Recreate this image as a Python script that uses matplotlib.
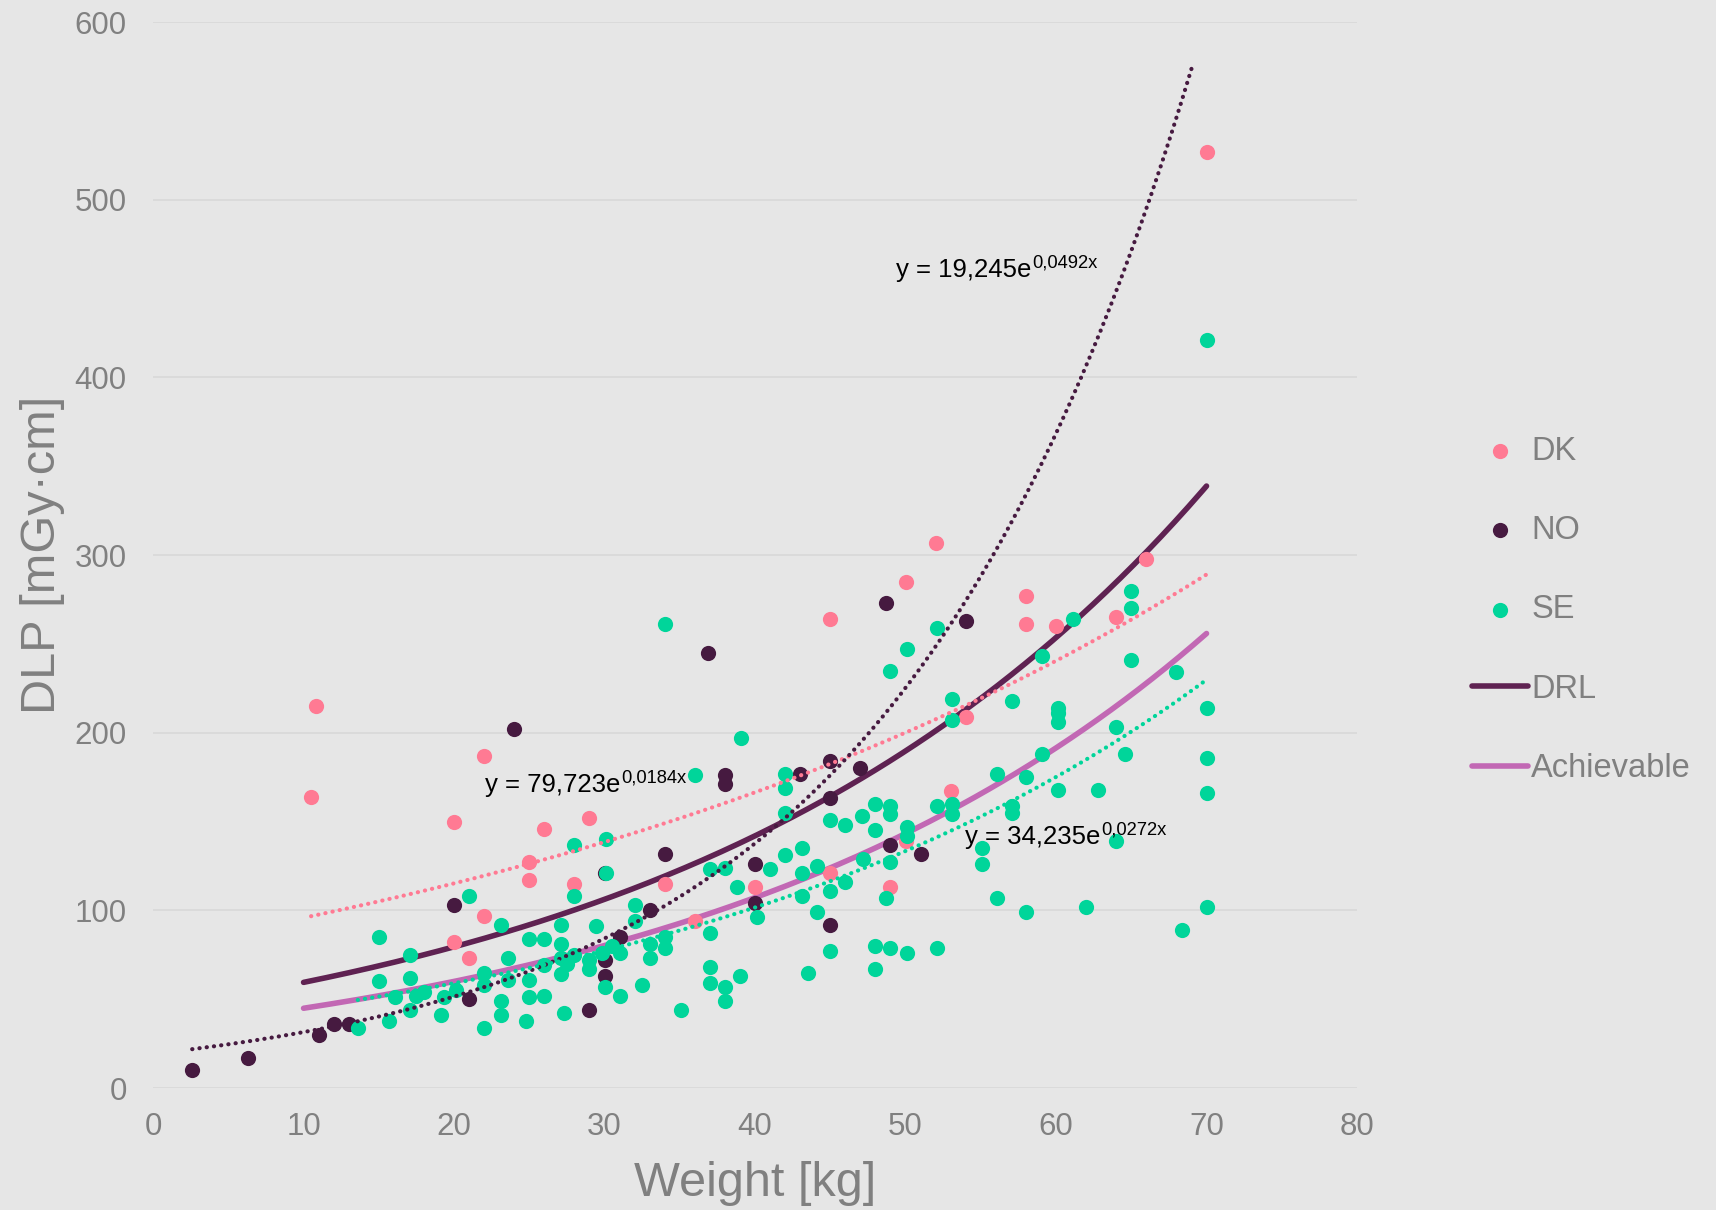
import numpy as np
import matplotlib.pyplot as plt

plt.rcParams['font.family'] = ['Liberation Sans', 'DejaVu Sans']

# =====================================================
# Data
# =====================================================

dk_weight = [10.5, 10.8, 22, 20, 20, 21, 22, 25, 25, 26, 29, 28, 34, 36, 40,
             45, 45, 49, 50, 50, 52, 53, 54, 58, 58, 60, 64, 66, 70]
dk_dlp = [164, 215, 187, 150, 82, 73, 97, 127, 117, 146, 152, 115, 115, 94, 113,
          121, 264, 113, 139, 285, 307, 167, 209, 277, 261, 260, 265, 298, 527]

no_weight = [2.6, 6.3, 11, 12, 13, 20, 21, 24, 29, 30, 30, 30, 31, 33, 34,
             36.9, 38, 38, 40, 40, 43, 45, 45, 45, 47, 48.7, 49, 51, 54]
no_dlp = [10, 17, 30, 36, 36, 103, 50, 202, 44, 121, 72, 63, 85, 100, 132,
          245, 176, 171, 126, 104, 177, 184, 163, 92, 180, 273, 137, 132, 263]

se_weight = [15, 15, 17.1, 17.1, 16.1, 17.1, 15.7, 13.6, 17.5, 18, 19.1, 19.3, 20.1,
             21, 23.1, 22, 22, 23.1, 23.1, 22, 23.6, 23.6, 25, 25, 25, 24.8, 26, 26,
             26, 39.1, 36, 42, 42, 42, 30.1, 28, 30.1, 28, 27.1, 29.4, 32, 32, 27.1,
             27.1, 27.1, 28, 27.5, 29, 29, 29.8, 30.5, 31, 33, 34, 34, 33, 37, 38,
             38.8, 41, 42, 37, 37, 37, 38, 38, 39, 35.1, 32.5, 31, 30, 27.3, 53.1,
             57.1, 60.1, 60.1, 60.1, 45, 46, 47.1, 48, 49, 49, 48, 50.1, 50.1, 52.1,
             53.1, 53.1, 56.1, 58, 57.1, 57.1, 59.1, 60.1, 62.8, 55.1, 55.1, 56.1, 58,
             62, 49, 47.2, 44.1, 43.1, 43.1, 45, 46, 43.1, 44.1, 40.1, 43.5, 45, 48,
             48, 49, 50.1, 52.1, 48.7, 52.1, 50.1, 49, 53.1, 59.1, 61.1, 65, 65, 65,
             68, 70, 70, 70, 64, 64.6, 64, 68.4, 70, 70, 34]
se_dlp = [85, 60, 75, 62, 51, 44, 38, 34, 52, 54, 41, 51, 55,
          108, 92, 65, 58, 49, 41, 34, 73, 61, 84, 61, 51, 38, 84, 69,
          52, 197, 176, 177, 169, 155, 140, 137, 121, 108, 92, 91, 103, 94, 81,
          73, 64, 75, 70, 72, 67, 76, 80, 76, 81, 85, 79, 73, 123, 124,
          113, 123, 131, 87, 68, 59, 57, 49, 63, 44, 58, 52, 57, 42, 207,
          218, 214, 211, 206, 151, 148, 153, 160, 159, 154, 145, 147, 142, 159,
          160, 154, 177, 175, 159, 155, 188, 168, 168, 135, 126, 107, 99,
          102, 127, 129, 125, 135, 121, 111, 116, 108, 99, 96, 65, 77, 80,
          67, 79, 76, 79, 107, 259, 247, 235, 219, 243, 264, 280, 270, 241,
          234, 214, 186, 166, 203, 188, 139, 89, 102, 421, 261]

# reference levels and Excel trend lines: y = a * exp(b * x)
drl_coef = (44.5, 0.029)
ach_coef = (33.6, 0.029)
ref_range = (10, 70)

trend_dk = (79.723, 0.0184)
trend_no = (19.245, 0.0492)
trend_se = (34.235, 0.0272)
trend_dk_range = (10.5, 70)
trend_no_range = (2.6, 69)
trend_se_range = (13.6, 70)

trend_labels = [
    ('79,723', '0,0184x', 22.06, 166.6),
    ('19,245', '0,0492x', 49.37, 456.5),
    ('34,235', '0,0272x', 53.95, 137.3),
]

# =====================================================
# Plot
# =====================================================

c_dk = '#FF7A93'
c_no = '#461A40'
c_se = '#00D59A'
c_drl = '#5F2252'
c_ach = '#C268B4'
bg = '#E6E6E6'
grey = '#808080'

fig = plt.figure(figsize=(17.16, 12.10), dpi=100, facecolor=bg)
ax = fig.add_axes([0.0892, 0.1008, 0.7016, 0.8810])
ax.set_facecolor(bg)


def expo(coef, rng):
    xs = np.linspace(rng[0], rng[1], 200)
    return xs, coef[0] * np.exp(coef[1] * xs)


xs, ys = expo(drl_coef, ref_range)
ax.plot(xs, ys, color=c_drl, lw=4, solid_capstyle='round', label='DRL', zorder=2)
xs, ys = expo(ach_coef, ref_range)
ax.plot(xs, ys, color=c_ach, lw=4, solid_capstyle='round', label='Achievable', zorder=2)

ax.scatter(dk_weight, dk_dlp, s=120, color=c_dk, lw=0, label='DK', zorder=3)
ax.scatter(no_weight, no_dlp, s=120, color=c_no, lw=0, label='NO', zorder=3)
ax.scatter(se_weight, se_dlp, s=120, color=c_se, lw=0, label='SE', zorder=3)

for coef, rng, col in [(trend_dk, trend_dk_range, c_dk),
                       (trend_no, trend_no_range, c_no),
                       (trend_se, trend_se_range, c_se)]:
    xs, ys = expo(coef, rng)
    ax.plot(xs, ys, color=col, lw=3, linestyle=(0, (0.05, 1.7)),
            dash_capstyle='round', zorder=4)

for a_txt, b_txt, tx, ty in trend_labels:
    t = ax.text(tx, ty, 'y = ' + a_txt + 'e', fontsize=18.5, color='black',
                ha='left', va='baseline', zorder=5)
    ax.annotate(b_txt, xy=(1, 0), xycoords=t, xytext=(0.5, 10.5),
                textcoords='offset points', fontsize=13.2, color='black',
                ha='left', va='baseline', zorder=5)

ax.set_xlim(0, 80)
ax.set_ylim(0, 600)
ax.set_xticks(range(0, 81, 10))
ax.set_yticks(range(0, 601, 100))
ax.yaxis.grid(True, color='#D8D8D8', lw=1.2)
ax.xaxis.grid(False)
ax.set_axisbelow(True)
for sp in ax.spines.values():
    sp.set_visible(False)
ax.tick_params(axis='both', length=0, labelsize=22.5, labelcolor=grey)
ax.tick_params(axis='x', pad=17)
ax.tick_params(axis='y', pad=19)

ax.set_xlabel('Weight [kg]', fontsize=35, color=grey, labelpad=14)
ax.set_ylabel('DLP [mGy·cm]', fontsize=35, color=grey, labelpad=7)

handles, labels = ax.get_legend_handles_labels()
order = [labels.index(k) for k in ['DK', 'NO', 'SE', 'DRL', 'Achievable']]
fig.legend([handles[i] for i in order], [labels[i] for i in order],
           loc='center left', bbox_to_anchor=(0.858, 0.496), frameon=False,
           fontsize=23.5, labelcolor=grey, handlelength=1.7, handletextpad=0.1,
           labelspacing=1.48, borderpad=0, borderaxespad=0)

plt.savefig('out.png', dpi=100, facecolor=bg)
